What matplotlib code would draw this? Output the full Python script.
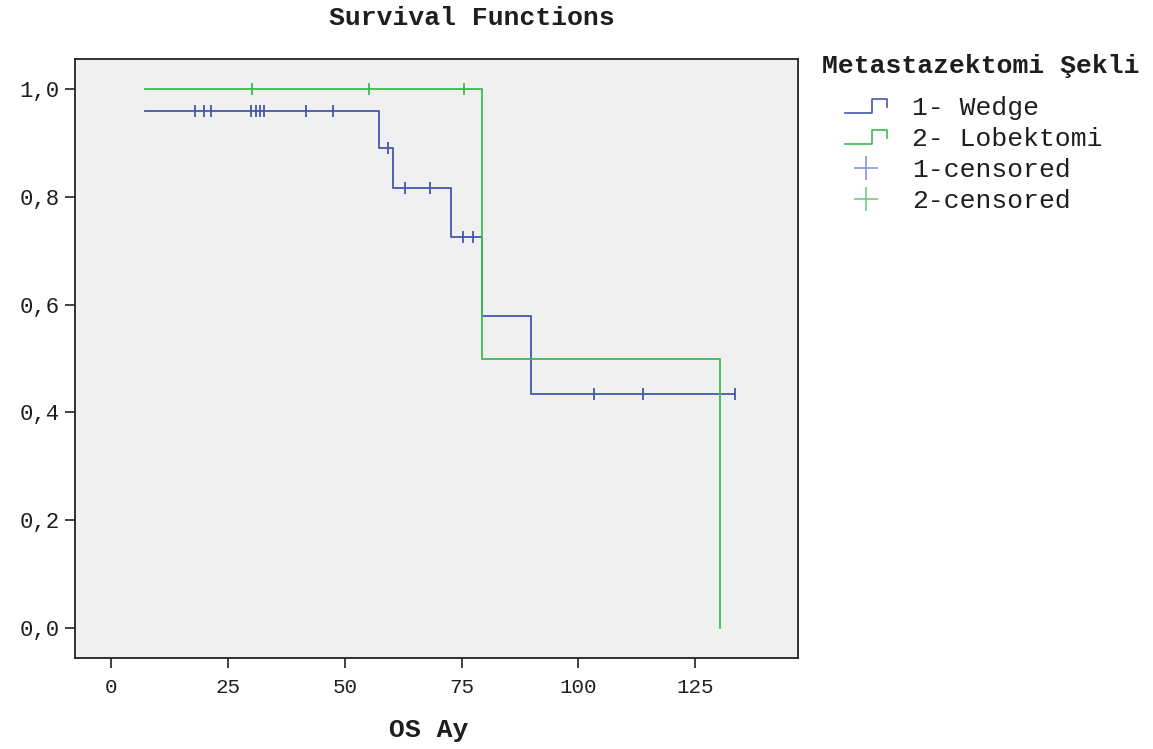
import numpy as np
import matplotlib
matplotlib.use("Agg")
import matplotlib.pyplot as plt
from matplotlib.lines import Line2D
from matplotlib.legend_handler import HandlerBase

plt.rcParams["font.family"] = ["Liberation Mono", "DejaVu Sans Mono"]

# Kaplan-Meier steps
wedge_times = [7.3, 57.4, 60.3, 72.7, 79.3, 89.8, 133.5]
wedge_surv = [0.959, 0.890, 0.816, 0.726, 0.579, 0.434, 0.434]
wedge_censored = [17.9, 19.8, 21.3, 29.9, 30.9, 31.9, 32.7, 41.7, 47.4,
                  59.2, 62.8, 68.2, 75.2, 77.4, 103.3, 113.9, 133.5]

lob_times = [7.3, 79.3, 130.4]
lob_surv = [1.0, 0.5, 0.0]
lob_censored = [30.0, 55.1, 75.4]

x_ticks = [0, 25, 50, 75, 100, 125]
y_ticks = [0.0, 0.2, 0.4, 0.6, 0.8, 1.0]
labels = ["1- Wedge", "2- Lobektomi", "1-censored", "2-censored"]

BLUE = "#4357ae"
GREEN = "#3cbb52"
TXT = "#1e1e1e"


def level_at(times, surv, t):
    i = np.searchsorted(times, t, side="right") - 1
    return np.asarray(surv)[i]


class StepHandler(HandlerBase):
    def create_artists(self, legend, orig_handle, xdescent, ydescent,
                       width, height, fontsize, trans):
        xs = np.array([0.0, 0.65, 0.65, 1.0, 1.0]) * width - xdescent
        ys = np.array([0.1, 0.1, 0.85, 0.85, 0.45]) * height - ydescent
        line = Line2D(xs, ys, color=orig_handle.get_color(), lw=1.2)
        line.set_transform(trans)
        return [line]


fig = plt.figure(figsize=(11.53, 7.49), dpi=100)
ax = fig.add_axes([0.0650, 0.1211, 0.6271, 0.7997])
ax.set_facecolor("#f0f0f0")

ax.step(wedge_times, wedge_surv, where="post", color=BLUE, lw=1.3)
ax.step(lob_times, lob_surv, where="post", color=GREEN, lw=1.3)

ax.plot(wedge_censored, level_at(wedge_times, wedge_surv, wedge_censored),
        ls="none", marker="|", ms=8, mew=1.3, color=BLUE)
ax.plot(lob_censored, level_at(lob_times, lob_surv, lob_censored),
        ls="none", marker="|", ms=8, mew=1.3, color=GREEN)

ax.set_xlim(-7.8, 147.0)
ax.set_ylim(-0.056, 1.055)
ax.set_xticks(x_ticks)
ax.set_xticklabels([str(v) for v in x_ticks])
ax.set_yticks(y_ticks)
ax.set_yticklabels([f"{v:.1f}".replace(".", ",") for v in y_ticks])
ax.tick_params(axis="both", direction="out", length=7, width=1.2,
               color="#222222", labelsize=15, labelcolor=TXT)
ax.tick_params(axis="x", pad=7)
ax.tick_params(axis="y", pad=4, labelsize=16)
for sp in ax.spines.values():
    sp.set_color("#222222")
    sp.set_linewidth(1.3)

fig.text(472 / 1153, 1 - 18 / 749, "Survival Functions", ha="center",
         va="center", fontsize=19, fontweight="bold", color=TXT)
fig.text(429 / 1153, 1 - 730 / 749, "OS Ay", ha="center", va="center",
         fontsize=19, fontweight="bold", color=TXT)
fig.text(822 / 1153, 1 - 66 / 749, "Metastazektomi Şekli", ha="left",
         va="center", fontsize=19, fontweight="bold", color=TXT)

handles = [
    Line2D([], [], color=BLUE),
    Line2D([], [], color=GREEN),
    Line2D([], [], ls="none", marker="+", ms=17, mew=1.2, color="#8a98cf"),
    Line2D([], [], ls="none", marker="+", ms=17, mew=1.2, color="#72cc7f"),
]
leg = fig.legend(handles, labels, loc="upper left",
                 bbox_to_anchor=(845 / 1153, 1 - 96 / 749),
                 frameon=False, fontsize=19, handlelength=1.6,
                 handletextpad=0.95, labelspacing=0.27, borderpad=0,
                 borderaxespad=0,
                 handler_map={handles[0]: StepHandler(),
                              handles[1]: StepHandler()})
for t in leg.get_texts():
    t.set_color(TXT)

fig.savefig("out.png", dpi=100, facecolor="white")
